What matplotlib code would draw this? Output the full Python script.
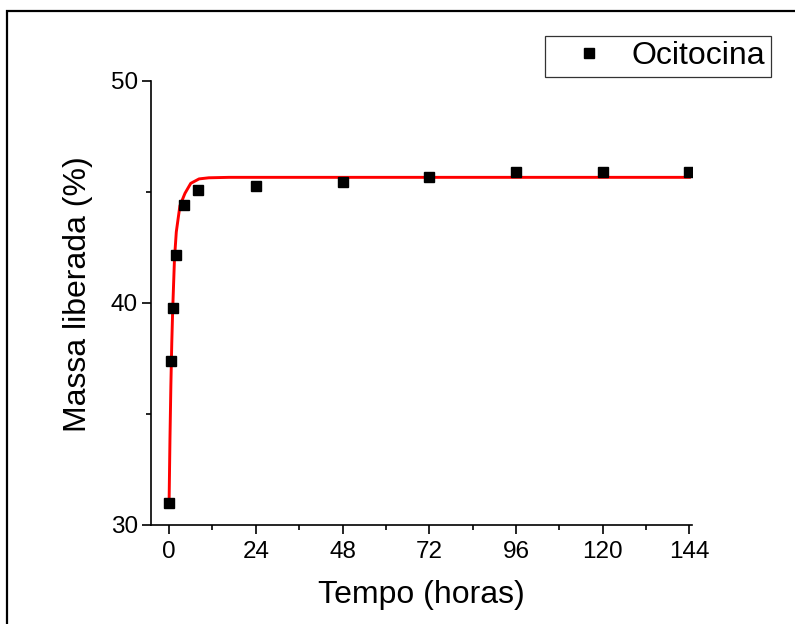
import matplotlib
matplotlib.use('Agg')
import matplotlib.pyplot as plt
from matplotlib.patches import Rectangle
from matplotlib.ticker import MultipleLocator

plt.rcParams['font.family'] = ['Liberation Sans', 'DejaVu Sans']

# pontos experimentais
tempo = [0, 0.5, 1, 2, 4, 8, 24, 48, 72, 96, 120, 144]
massa = [30.98, 37.37, 39.76, 42.14, 44.41, 45.08, 45.29, 45.45, 45.68, 45.89, 45.89, 45.90]

# curva de ajuste
tempo_fit = [0, 0.25, 0.5, 0.75, 1.0, 1.5, 2.0, 3.0, 4.4, 6.0, 8.3, 11, 16.6, 144]
massa_fit = [30.95, 33.9, 36.3, 38.2, 39.68, 42.0, 43.2, 44.38, 44.94, 45.39, 45.59, 45.64, 45.66, 45.66]

xticks = [0, 24, 48, 72, 96, 120, 144]

fig = plt.figure(figsize=(7.95, 6.24), dpi=100)
ax = fig.add_axes([151/795, 1-525/624, (692.3-151)/795, (525-81)/624])

ax.plot(tempo_fit, massa_fit, color='red', lw=2.1, zorder=2)
ax.plot(tempo, massa, 's', color='black', ms=7.5, label='Ocitocina', zorder=3)

ax.set_xlim(-5, 144.8)
ax.set_ylim(30, 50)
ax.set_xticks(xticks)
ax.xaxis.set_minor_locator(MultipleLocator(12))
ax.yaxis.set_major_locator(MultipleLocator(10))
ax.yaxis.set_minor_locator(MultipleLocator(5))

for s in ['top', 'right']:
    ax.spines[s].set_visible(False)
for s in ['left', 'bottom']:
    ax.spines[s].set_linewidth(1.2)

ax.tick_params(which='major', length=6.5, width=1.2, labelsize=17.5, direction='out')
ax.tick_params(which='minor', length=3.5, width=1.2, direction='out')
ax.tick_params(axis='x', pad=5)
ax.tick_params(axis='y', pad=3)

ax.set_xlabel('Tempo (horas)', fontsize=23, labelpad=12)
ax.set_ylabel('Massa liberada (%)', fontsize=23)
ax.yaxis.set_label_coords(-0.107, 0.52)

leg = ax.legend(loc='upper right', bbox_to_anchor=(771/795, 1-36/624),
                bbox_transform=fig.transFigure, fontsize=23, numpoints=1,
                frameon=True, fancybox=False, borderpad=0.17, borderaxespad=0,
                handlelength=2.4, handletextpad=0.15)
leg.get_frame().set_edgecolor('black')
leg.get_frame().set_linewidth(0.9)

# moldura da figura
fig.patches.append(Rectangle((7.3/795, -0.1), 1.2, 1-11/624+0.1, transform=fig.transFigure,
                             fill=False, edgecolor='black', lw=1.6, clip_on=False))

plt.savefig('out.png', dpi=100)
